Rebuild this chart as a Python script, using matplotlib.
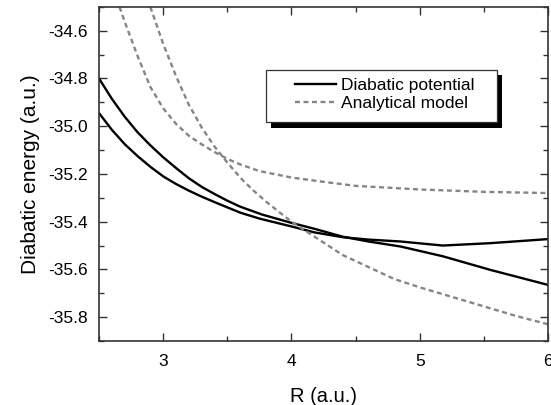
import matplotlib
matplotlib.use("Agg")
import matplotlib.pyplot as plt
from matplotlib.patches import Rectangle
from matplotlib.ticker import MultipleLocator

plt.rcParams['font.family'] = ['Liberation Sans', 'DejaVu Sans']
plt.rcParams['axes.unicode_minus'] = False

# diabatic potential curves (R in a.u., energy in a.u.)
r_diab1 = [2.5, 2.6, 2.7, 2.8, 2.9, 3.0, 3.1, 3.2, 3.3, 3.4, 3.5, 3.6, 3.77, 4.0, 4.18,
           4.4, 4.6, 4.85, 5.18, 5.55, 6.0]
e_diab1 = [-34.80, -34.885, -34.96, -35.025, -35.08, -35.13, -35.175, -35.218, -35.254,
           -35.284, -35.312, -35.337, -35.37, -35.405, -35.43, -35.463, -35.483, -35.504,
           -35.545, -35.602, -35.665]
r_diab2 = [2.5, 2.6, 2.7, 2.8, 2.9, 3.0, 3.1, 3.2, 3.3, 3.4, 3.5, 3.6, 3.75, 4.0, 4.18,
           4.4, 4.6, 4.85, 5.18, 5.55, 6.0]
e_diab2 = [-34.945, -35.015, -35.075, -35.125, -35.17, -35.21, -35.242, -35.27, -35.295,
           -35.318, -35.34, -35.362, -35.387, -35.42, -35.445, -35.465, -35.475, -35.483,
           -35.50, -35.49, -35.473]

# analytical model fits
r_model1 = [2.9, 3.0, 3.1, 3.2, 3.3, 3.4, 3.5, 3.6, 3.7, 3.8, 3.9, 4.0, 4.2, 4.4, 4.6,
            4.8, 5.0, 5.25, 5.5, 5.75, 6.0]
e_model1 = [-34.50, -34.655, -34.79, -34.91, -35.005, -35.085, -35.152, -35.215, -35.268,
            -35.315, -35.358, -35.40, -35.47, -35.54, -35.59, -35.64, -35.675, -35.715,
            -35.755, -35.795, -35.83]
r_model2 = [2.66, 2.7, 2.8, 2.9, 3.0, 3.1, 3.2, 3.3, 3.4, 3.5, 3.6, 3.75, 4.0, 4.25, 4.5,
            5.0, 5.5, 6.0]
e_model2 = [-34.50, -34.562, -34.705, -34.835, -34.925, -34.99, -35.04, -35.076, -35.108,
            -35.137, -35.16, -35.188, -35.215, -35.233, -35.25, -35.265, -35.275, -35.28]

fig = plt.figure(figsize=(5.51, 4.05), dpi=100)
ax = fig.add_axes([0.1797, 0.158, 0.815, 0.825])

gray = '#858585'
ax.plot(r_diab1, e_diab1, color='black', lw=1.7, label='Diabatic potential')
ax.plot(r_diab2, e_diab2, color='black', lw=1.7)
ax.plot(r_model1, e_model1, color=gray, lw=1.7, ls=(0, (2.1, 1.5)), label='Analytical model')
ax.plot(r_model2, e_model2, color=gray, lw=1.7, ls=(0, (2.1, 1.5)))

ax.set_xlim(2.5, 6.0)
ax.set_ylim(-35.9, -34.5)
ax.xaxis.set_major_locator(MultipleLocator(1))
ax.xaxis.set_minor_locator(MultipleLocator(0.5))
ax.yaxis.set_major_locator(MultipleLocator(0.2))
ax.yaxis.set_minor_locator(MultipleLocator(0.1))
ax.tick_params(which='both', direction='in', top=True, right=True, color='#333333',
               width=1.0, labelsize=12.5)
ax.tick_params(which='major', length=6)
ax.tick_params(which='minor', length=3.5)
ax.tick_params(axis='y', pad=8)
ax.tick_params(axis='x', pad=9)
for s in ax.spines.values():
    s.set_color('#333333')
    s.set_linewidth(1.2)

ax.set_xlabel('R (a.u.)', fontsize=14.5, labelpad=13)
ax.set_ylabel('Diabatic energy (a.u.)', fontsize=15, labelpad=6)

# legend box with a solid black drop shadow
x0, y0, w, h = 0.372, 0.654, 0.514, 0.157
ax.add_patch(Rectangle((x0 + 0.011, y0 - 0.015), w, h, transform=ax.transAxes,
                       facecolor='black', edgecolor='none', zorder=4, clip_on=False))
ax.add_patch(Rectangle((x0, y0), w, h, transform=ax.transAxes, facecolor='white',
                       edgecolor='#333333', lw=0.9, zorder=4.5, clip_on=False))
ax.legend(loc='center left', bbox_to_anchor=(0.4365, 0.738), frameon=False,
          fontsize=12.5, borderpad=0, borderaxespad=0, handlelength=2.35,
          handletextpad=0.3, labelspacing=0.15)

fig.savefig('out.png', dpi=100)
